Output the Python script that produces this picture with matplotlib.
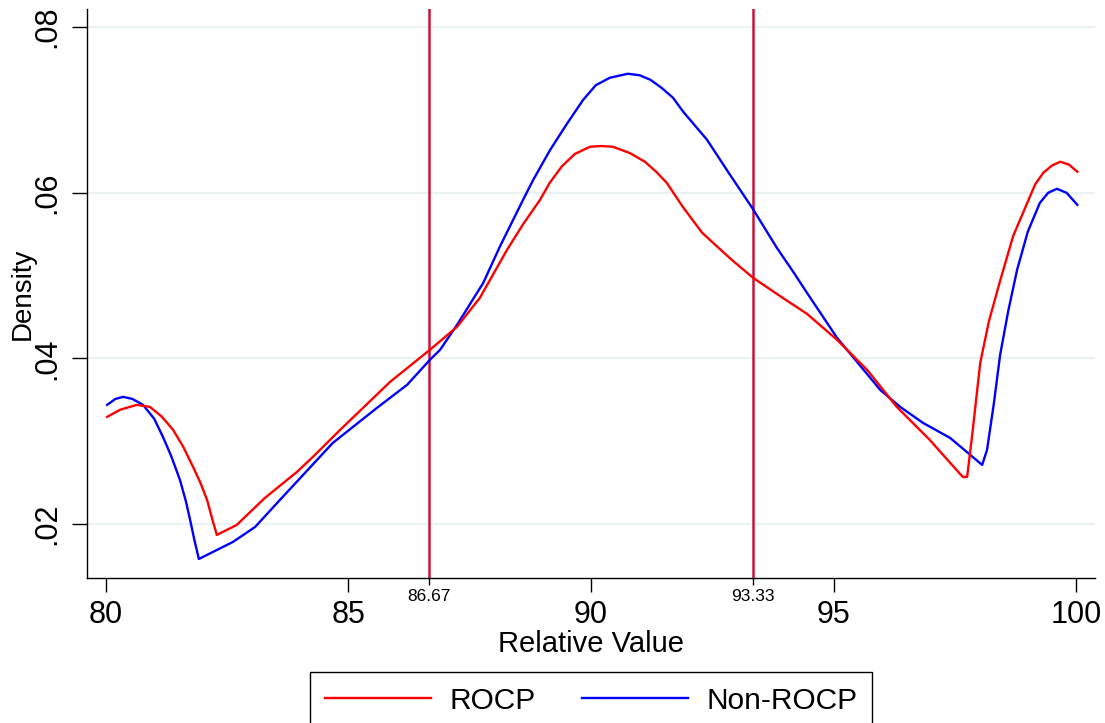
import numpy as np
import matplotlib
matplotlib.use("Agg")
import matplotlib.pyplot as plt

plt.rcParams["font.family"] = ["Liberation Sans", "DejaVu Sans"]

# kernel density estimates, read at the evaluation points
rocp_x = [80.03, 80.30, 80.64, 80.91, 81.15, 81.39, 81.60, 81.80, 81.95, 82.09,
          82.20, 82.29, 82.70, 83.28, 83.94, 84.27, 84.83, 85.86, 86.68, 87.24,
          87.71, 88.27, 88.60, 88.95, 89.15, 89.40, 89.67, 89.98, 90.20, 90.45,
          90.80, 91.11, 91.35, 91.56, 91.89, 92.29, 92.90, 93.34, 93.95, 94.45,
          95.07, 95.69, 96.30, 96.98, 97.66, 97.75, 97.85, 98.02, 98.20, 98.43,
          98.70, 98.99, 99.15, 99.32, 99.50, 99.67, 99.85, 100.02]
rocp_y = [0.03293, 0.03380, 0.03438, 0.03414, 0.03300, 0.03136, 0.02930, 0.02689,
          0.02500, 0.02290, 0.02050, 0.01867, 0.01988, 0.02314, 0.02628, 0.02810,
          0.03136, 0.03716, 0.04103, 0.04381, 0.04731, 0.05311, 0.05620, 0.05915,
          0.06121, 0.06320, 0.06470, 0.06556, 0.06565, 0.06556, 0.06480, 0.06375,
          0.06250, 0.06121, 0.05831, 0.05517, 0.05190, 0.04973, 0.04731, 0.04538,
          0.04224, 0.03861, 0.03414, 0.03015, 0.02568, 0.02568, 0.03050, 0.03946,
          0.04450, 0.04937, 0.05480, 0.05879, 0.06100, 0.06242, 0.06330, 0.06375,
          0.06340, 0.06254]

non_x = [80.03, 80.20, 80.36, 80.55, 80.77, 81.00, 81.18, 81.35, 81.53, 81.65,
         81.74, 81.83, 81.92, 82.62, 83.08, 83.59, 84.68, 85.59, 86.21, 86.68,
         86.89, 87.24, 87.78, 88.12, 88.60, 88.81, 89.16, 89.50, 89.84, 90.10,
         90.39, 90.76, 91.00, 91.22, 91.45, 91.69, 91.90, 92.39, 92.85, 93.32,
         93.83, 94.15, 94.45, 95.07, 95.96, 96.37, 96.84, 97.40, 98.06, 98.16,
         98.30, 98.43, 98.60, 98.78, 99.00, 99.25, 99.42, 99.60, 99.80, 100.02]
non_y = [0.03438, 0.03510, 0.03535, 0.03510, 0.03438, 0.03270, 0.03051, 0.02820,
         0.02532, 0.02280, 0.02048, 0.01800, 0.01577, 0.01782, 0.01964, 0.02290,
         0.02979, 0.03402, 0.03680, 0.03982, 0.04103, 0.04405, 0.04912, 0.05347,
         0.05915, 0.06157, 0.06520, 0.06830, 0.07124, 0.07300, 0.07390, 0.07438,
         0.07420, 0.07366, 0.07270, 0.07148, 0.06979, 0.06641, 0.06230, 0.05819,
         0.05335, 0.05060, 0.04792, 0.04248, 0.03619, 0.03414, 0.03221, 0.03039,
         0.02713, 0.02894, 0.03450, 0.04042, 0.04580, 0.05070, 0.05530, 0.05879,
         0.06000, 0.06048, 0.06000, 0.05855]

cutoffs = [86.67, 93.33]
cutoff_labels = ["86.67", "93.33"]
x_ticks = [80, 85, 90, 95, 100]
y_ticks = [0.02, 0.04, 0.06, 0.08]
y_tick_labels = [".02", ".04", ".06", ".08"]

fig = plt.figure(figsize=(11.05, 7.23), dpi=100)
ax = fig.add_axes([87 / 1105, 1 - 578 / 723, (1095 - 87) / 1105, (578 - 9) / 723])

ax.set_xlim(79.615, 100.385)
ax.set_ylim(0.01347, 0.0822)

for y in y_ticks:
    ax.axhline(y, color="#eaf1f3", lw=1.6, zorder=0)

for c in cutoffs:
    ax.axvline(c, color="#c8143c", lw=1.8, zorder=1)

ax.plot(rocp_x, rocp_y, color="#ff0000", lw=1.7, label="ROCP", zorder=3,
        solid_joinstyle="round")
ax.plot(non_x, non_y, color="#0000ff", lw=1.7, label="Non-ROCP", zorder=2,
        solid_joinstyle="round")

ax.spines["top"].set_visible(False)
ax.spines["right"].set_visible(False)
for s in ("left", "bottom"):
    ax.spines[s].set_linewidth(1.0)

ax.set_xticks(x_ticks)
ax.set_xticklabels([str(t) for t in x_ticks])
ax.set_xticks(cutoffs, minor=True)
ax.set_xticklabels(cutoff_labels, minor=True)
ax.tick_params(axis="x", which="major", length=10, width=1, pad=6, labelsize=22)
ax.tick_params(axis="x", which="minor", length=5, width=1, pad=3, labelsize=12.5)

ax.set_yticks(y_ticks)
ax.set_yticklabels(y_tick_labels, rotation=90, va="center")
ax.tick_params(axis="y", length=11, width=1, pad=7, labelsize=22)

ax.set_xlabel("Relative Value", fontsize=21, labelpad=0)
ax.set_ylabel("Density", fontsize=20)
ax.yaxis.set_label_coords(-0.051, 0.5)

leg = fig.legend(loc="upper center", bbox_to_anchor=(591 / 1105, 1 - 672 / 723),
                 ncol=2, fontsize=21.5, frameon=True, fancybox=False,
                 edgecolor="black", framealpha=1, handlelength=3.58,
                 handletextpad=0.6, columnspacing=1.54, borderpad=0.5,
                 borderaxespad=0)
leg.get_frame().set_linewidth(1.0)

fig.savefig("out.png", dpi=100)
